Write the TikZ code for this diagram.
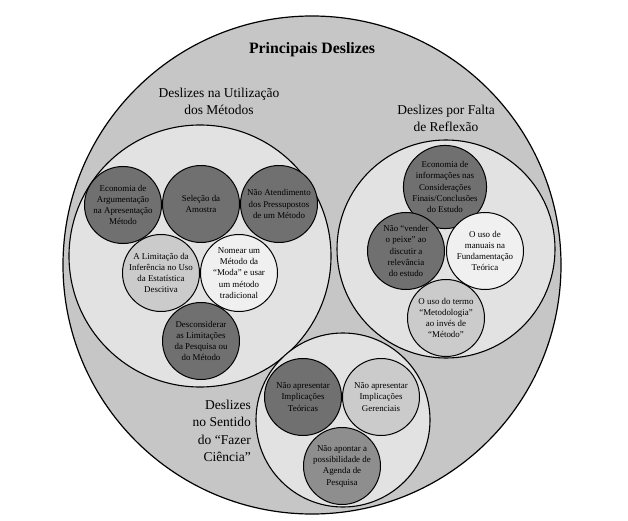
\documentclass[tikz,border=0pt]{standalone}
\usepackage{fontspec}
\setmainfont{Liberation Serif}
\begin{document}
\begin{tikzpicture}[x=1pt,y=-1pt,
  group/.style={circle,draw,line width=1.1pt,fill=grpfill,inner sep=0pt},
  item/.style={circle,draw,line width=1pt,inner sep=0pt,minimum size=77pt,align=center,font=\fontsize{8.9}{11.3}\selectfont},
  dark/.style={item,fill=darkfill},
  mid/.style={item,fill=midfill},
  light/.style={item,fill=lightfill},
  pale/.style={item,fill=palefill},
  glabel/.style={align=center,font=\fontsize{13.5}{17}\selectfont,inner sep=0pt}]
\definecolor{outerfill}{HTML}{C6C6C6}
\definecolor{grpfill}{HTML}{E2E2E2}
\definecolor{darkfill}{HTML}{707070}
\definecolor{midfill}{HTML}{8E8E8E}
\definecolor{lightfill}{HTML}{CBCBCB}
\definecolor{palefill}{HTML}{F0F0F0}
\useasboundingbox (0,0) rectangle (628,521);
\fill[white] (0,0) rectangle (628,521);
% outer
\node[circle,draw,line width=1.2pt,fill=outerfill,minimum size=498pt,inner sep=0pt] (outer) at (312,265) {};
\node[font=\bfseries\fontsize{15.8}{18}\selectfont] (title) at (312,50) {Principais Deslizes};
% groups
\node[group,minimum size=262pt] (metodos) at (200,256) {};
\node[group,minimum size=218pt] (reflexao) at (446,249) {};
\node[group,minimum size=174pt] (ciencia) at (343,420) {};
% group labels
\node[glabel] (lmetodos) at (219,101) {Deslizes na Utilização\\dos Métodos};
\node[glabel] (lreflexao) at (446,118) {Deslizes por Falta\\de Reflexão};
\node[glabel,align=right,anchor=east,font=\fontsize{13.5}{17.5}\selectfont] (lciencia) at (251,431) {Deslizes\\no Sentido\\do “Fazer\\Ciência”};
% metodos items
\node[dark] (m1) at (123,205) {Economia de\\Argumentação\\na Apresentação\\Método};
\node[dark] (m2) at (201,204) {Seleção da\\Amostra};
\node[dark] (m3) at (279,204) {Não Atendimento\\dos Pressupostos\\de um Método};
\node[light] (m4) at (161,273) {A Limitação da\\Inferência no Uso\\da Estatística\\Descitiva};
\node[pale] (m5) at (239,273) {Nomear um\\Método da\\“Moda” e usar\\um método\\tradicional};
\node[dark] (m6) at (201,341) {Desconsiderar\\as Limitações\\da Pesquisa ou\\do Método};
% reflexao items
\node[dark] (r1) at (445,187) {Economia de\\informações nas\\Considerações\\Finais/Conclusões\\do Estudo};
\node[dark] (r2) at (406,251) {Não “vender\\o peixe” ao\\discutir a\\relevância\\do estudo};
\node[pale] (r3) at (485,251) {O uso de\\manuais na\\Fundamentação\\Teórica};
\node[light] (r4) at (446,318) {O uso do termo\\“Metodologia”\\ao invés de\\“Método”};
% ciencia items
\node[dark] (c1) at (303,397) {Não apresentar\\Implicações\\Teóricas};
\node[light] (c2) at (381,397) {Não apresentar\\Implicações\\Gerenciais};
\node[mid] (c3) at (342,466) {Não apontar a\\possibilidade de\\Agenda de\\Pesquisa};
\end{tikzpicture}
\end{document}
